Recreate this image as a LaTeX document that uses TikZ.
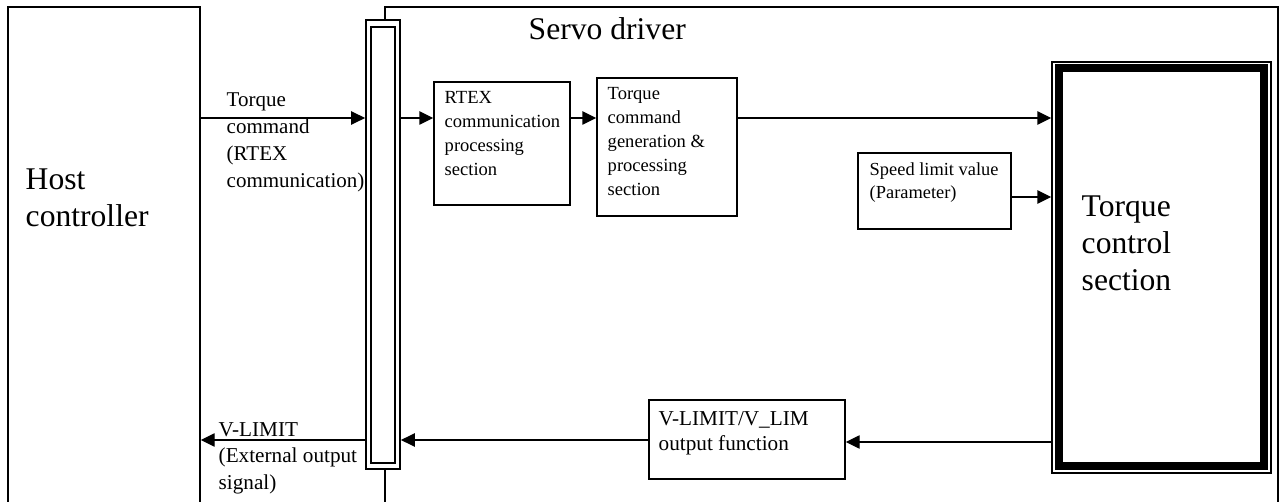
\documentclass[tikz,border=0pt]{standalone}
\usepackage{fontspec}
\setmainfont{Liberation Serif}
\usetikzlibrary{arrows.meta,fit}
\newcommand{\mlines}[1]{\begin{tabular}[t]{@{}l@{}}#1\end{tabular}}
\begin{document}
\begin{tikzpicture}[x=0.75pt,y=-0.75pt,
  line width=1.1pt,
  box/.style={draw, inner sep=0pt, line width=1.1pt},
  arr/.style={-{Triangle[length=10.5pt,width=10pt]}, line width=1.1pt},
  lbl/.style={inner sep=0pt, anchor=base west},
  bigfont/.style={font=\fontsize{23.7pt}{27.75pt}\selectfont},
  sigfont/.style={font=\fontsize{15.75pt}{20.25pt}\selectfont},
  smallfont/.style={font=\fontsize{13.9pt}{18pt}\selectfont},
  spdfont/.style={font=\fontsize{13.8pt}{17.25pt}\selectfont},
  vlimfont/.style={font=\fontsize{15.9pt}{19.1pt}\selectfont},
]
\useasboundingbox (0,0) rectangle (1282,502);
\clip (0,0) rectangle (1282,502);
\fill[white] (0,0) rectangle (1282,502);

% outer boxes (open at the bottom edge of the picture)
\node[box, fit={(8,7) (200,530)}] (host) {};
\node[box, fit={(385,7) (1278,530)}] (servo) {};

% connector bar
\node[box, fill=white, line width=1.3pt, fit={(366,20) (400,469)}] (bar) {};
\node[box, line width=1.6pt, fit={(371,27) (395,463)}] (bari) {};

% blocks
\node[box, fit={(434,82) (570,205)}] (rtex) {};
\node[box, fit={(597,78) (737,216)}] (tcg) {};
\node[box, fit={(858,153) (1011,229)}] (spd) {};
\node[box, fit={(649,400) (845,479)}] (vlim) {};
\node[box, fit={(1052,62) (1271,473)}] (tcs) {};
\node[box, line width=6pt, fit={(1059,68.5) (1264,466)}] (tcsi) {};

% texts
\node[lbl, bigfont] (hostT) at (25,190) {\mlines{Host\\controller}};
\node[lbl, bigfont] (servoT) at (528,40) {Servo driver};
\node[lbl, bigfont] (tcsT) at (1081,217) {\mlines{Torque\\control\\section}};
\node[lbl, sigfont] (cmdT) at (226,107) {\mlines{Torque\\command\\(RTEX\\communication)}};
\node[lbl, smallfont] (rtexT) at (444,104) {\mlines{RTEX\\communication\\processing\\section}};
\node[lbl, smallfont] (tcgT) at (607,100) {\mlines{Torque\\command\\generation \&\\processing\\section}};
\node[lbl, spdfont] (spdT) at (869,176) {\mlines{Speed limit value\\(Parameter)}};
\node[lbl, vlimfont] (vlimT) at (658,425) {\mlines{V-LIMIT/V\_LIM\\output function}};
\node[lbl, font=\fontsize{15.9pt}{19.9pt}\selectfont] (extT) at (218,436) {\mlines{V-LIMIT\\(External output\\signal)}};

% connectors
\coordinate (ya) at (0,118);
\coordinate (yb) at (0,197);
\coordinate (yc) at (0,442);
\coordinate (yd) at (0,440);
\draw[arr] (host.east |- ya) -- (bar.west |- ya);
\draw[arr] (bar.east |- ya) -- (rtex.west |- ya);
\draw[arr] (rtex.east |- ya) -- (tcg.west |- ya);
\draw[arr] (tcg.east |- ya) -- (tcs.west |- ya);
\draw[arr] (spd.east |- yb) -- (tcs.west |- yb);
\draw[arr] (tcs.west |- yc) -- (vlim.east |- yc);
\draw[arr] (vlim.west |- yd) -- (bar.east |- yd);
\draw[arr] (bar.west |- yd) -- (host.east |- yd);
\end{tikzpicture}
\end{document}
